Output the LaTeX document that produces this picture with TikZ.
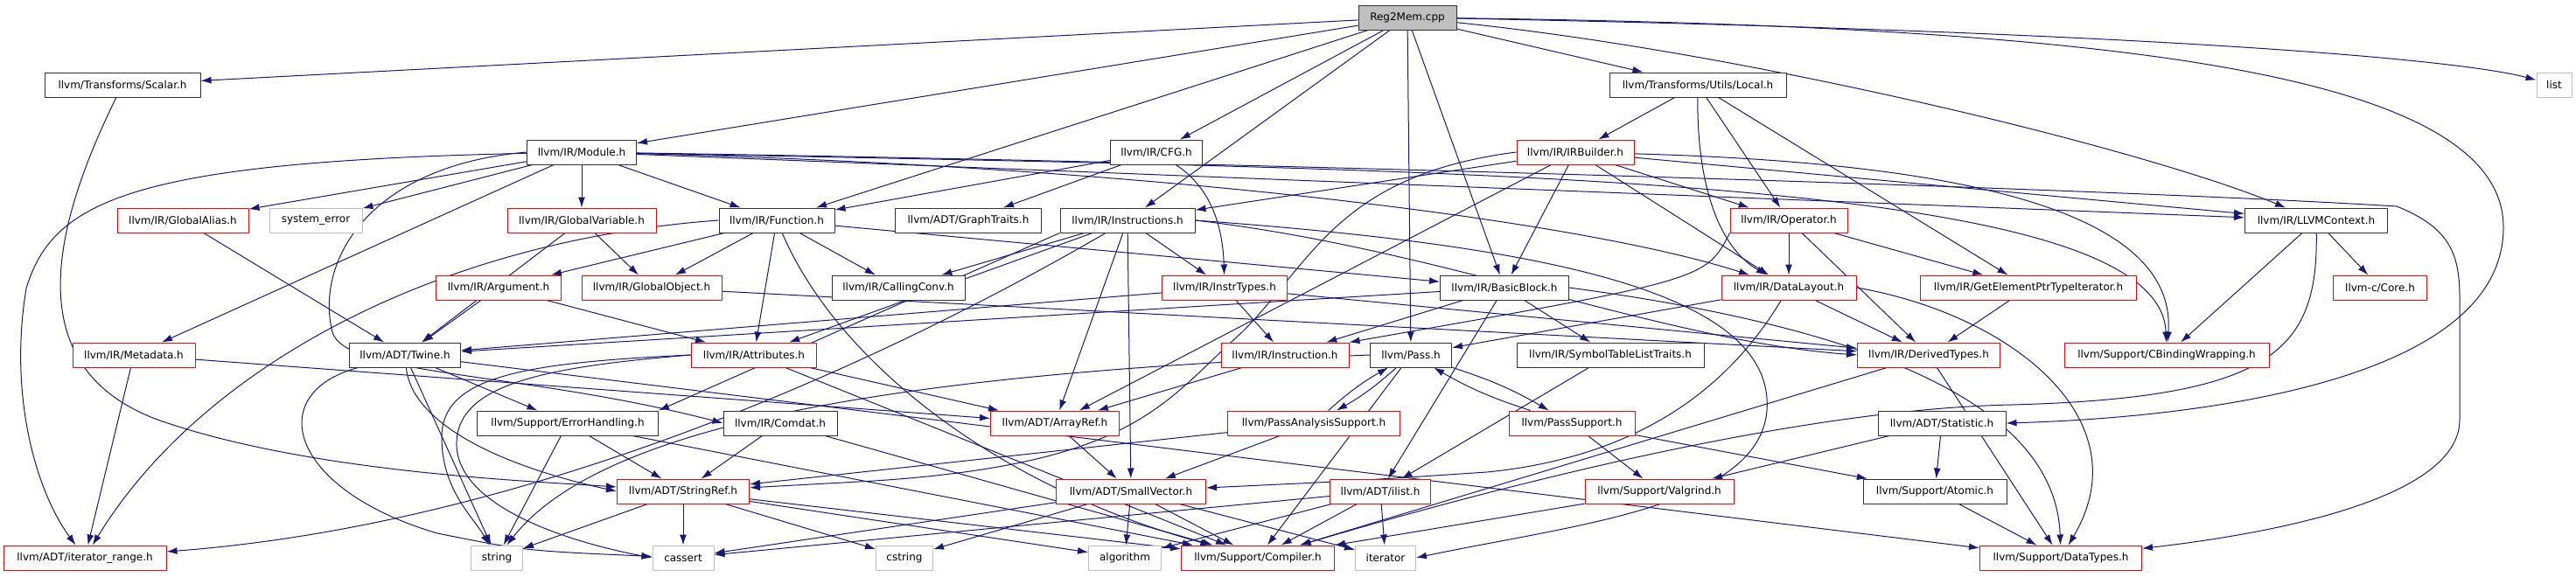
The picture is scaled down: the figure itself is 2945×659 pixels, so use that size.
\documentclass[tikz,border=0pt]{standalone}
\usepackage{fontspec}
\setmainfont{DejaVu Sans}
\usetikzlibrary{arrows.meta,backgrounds}
\definecolor{edgeblue}{RGB}{25,25,112}
\definecolor{redline}{RGB}{255,0,0}
\definecolor{grayline}{RGB}{191,191,191}
\definecolor{rootfill}{RGB}{191,191,191}
\newcommand\filefont{\fontsize{12}{14}\selectfont}
\tikzset{>={Latex[length=12pt,width=8pt]}}
\tikzset{
    file/.style={draw=black!80, fill=white, line width=1pt, minimum height=28pt, inner sep=0pt, font=\filefont},
    redfile/.style={file, draw=redline},
    sysfile/.style={file, draw=grayline},
    dep/.style={->, draw=edgeblue, line width=1pt}
}

\begin{document}
\begin{tikzpicture}[x=1pt, y=-1pt, line join = round]
    \useasboundingbox (0,0) rectangle (2945,659);
    % row 1
    \node[file, fill=rootfill, minimum width=112pt] (root) at (1609,20) {Reg2Mem.cpp};
    % row 2
    \node[file, minimum width=178pt] (scalar) at (140,97) {llvm/Transforms/Scalar.h};
    \node[file, minimum width=202pt] (local) at (1941,97) {llvm/Transforms/Utils/Local.h};
    \node[sysfile, minimum width=40pt] (list) at (2920,97) {list};
    % row 3
    \node[file, minimum width=125pt] (module) at (665,174) {llvm/IR/Module.h};
    \node[file, minimum width=105pt] (cfg) at (1322,174) {llvm/IR/CFG.h};
    \node[redfile, minimum width=134pt] (irbuilder) at (1801,174) {llvm/IR/IRBuilder.h};
    % row 4
    \node[redfile, minimum width=150pt] (galias) at (209,252) {llvm/IR/GlobalAlias.h};
    \node[sysfile, minimum width=106pt] (syserr) at (361,252) {system\_error};
    \node[redfile, minimum width=170pt] (gvar) at (665,252) {llvm/IR/GlobalVariable.h};
    \node[file, minimum width=132pt] (function) at (888,252) {llvm/IR/Function.h};
    \node[file, minimum width=167pt] (graphtr) at (1107,252) {llvm/ADT/GraphTraits.h};
    \node[file, minimum width=154pt] (instrs) at (1289,252) {llvm/IR/Instructions.h};
    \node[redfile, minimum width=134pt] (operator) at (2045,252) {llvm/IR/Operator.h};
    \node[file, minimum width=163pt] (llvmctx) at (2648,252) {llvm/IR/LLVMContext.h};
    % row 5
    \node[redfile, minimum width=143pt] (argument) at (570,329) {llvm/IR/Argument.h};
    \node[redfile, minimum width=160pt] (gobject) at (745,329) {llvm/IR/GlobalObject.h};
    \node[file, minimum width=152pt] (callconv) at (1027,329) {llvm/IR/CallingConv.h};
    \node[redfile, minimum width=143pt] (instrtypes) at (1400,329) {llvm/IR/InstrTypes.h};
    \node[file, minimum width=147pt] (bblock) at (1720,329) {llvm/IR/BasicBlock.h};
    \node[redfile, minimum width=154pt] (datalayout) at (2045,329) {llvm/IR/DataLayout.h};
    \node[redfile, minimum width=247pt] (gepti) at (2319,329) {llvm/IR/GetElementPtrTypeIterator.h};
    \node[redfile, minimum width=107pt] (core) at (2721,329) {llvm-c/Core.h};
    % row 6
    \node[redfile, minimum width=140pt] (metadata) at (153,406) {llvm/IR/Metadata.h};
    \node[file, minimum width=127pt] (twine) at (463,406) {llvm/ADT/Twine.h};
    \node[redfile, minimum width=143pt] (attributes) at (862,406) {llvm/IR/Attributes.h};
    \node[redfile, minimum width=146pt] (instruction) at (1469,406) {llvm/IR/Instruction.h};
    \node[file, minimum width=93pt] (pass) at (1613,406) {llvm/Pass.h};
    \node[file, minimum width=214pt] (symtab) at (1841,406) {llvm/IR/SymbolTableListTraits.h};
    \node[redfile, minimum width=163pt] (derived) at (2205,406) {llvm/IR/DerivedTypes.h};
    \node[redfile, minimum width=234pt] (cbinding) at (2477,406) {llvm/Support/CBindingWrapping.h};
    % row 7
    \node[file, minimum width=207pt] (errhand) at (649,484) {llvm/Support/ErrorHandling.h};
    \node[file, minimum width=130pt] (comdat) at (892,484) {llvm/IR/Comdat.h};
    \node[redfile, minimum width=147pt] (arrayref) at (1206,484) {llvm/ADT/ArrayRef.h};
    \node[redfile, minimum width=197pt] (passanalysis) at (1502,484) {llvm/PassAnalysisSupport.h};
    \node[redfile, minimum width=144pt] (passsupport) at (1797,484) {llvm/PassSupport.h};
    \node[file, minimum width=146pt] (statistic) at (2220,484) {llvm/ADT/Statistic.h};
    % row 8
    \node[redfile, minimum width=151pt] (stringref) at (781,562) {llvm/ADT/StringRef.h};
    \node[redfile, minimum width=171pt] (smallvec) at (1293,562) {llvm/ADT/SmallVector.h};
    \node[redfile, minimum width=115pt] (ilist) at (1578,562) {llvm/ADT/ilist.h};
    \node[redfile, minimum width=170pt] (valgrind) at (1897,562) {llvm/Support/Valgrind.h};
    \node[file, minimum width=164pt] (atomic) at (2212,562) {llvm/Support/Atomic.h};
    % row 9
    \node[redfile, minimum width=186pt] (itrange) at (97,638) {llvm/ADT/iterator\_range.h};
    \node[sysfile, minimum width=59pt] (string) at (568,638) {string};
    \node[sysfile, minimum width=70pt] (cassert) at (781,638) {cassert};
    \node[sysfile, minimum width=65pt] (cstring) at (1034,638) {cstring};
    \node[sysfile, minimum width=83pt] (algorithm) at (1286,638) {algorithm};
    \node[redfile, minimum width=175pt] (compiler) at (1438,638) {llvm/Support/Compiler.h};
    \node[sysfile, minimum width=69pt] (iterator) at (1584,638) {iterator};
    \node[redfile, minimum width=185pt] (datatypes) at (2356,638) {llvm/Support/DataTypes.h};

    \begin{scope}[on background layer]
        % straight includes
        \foreach \a/\b in {root/scalar, root/local, root/module, root/cfg, root/function, root/instrs,
            root/pass, root/bblock,
            local/irbuilder, local/operator, local/gepti,
            module/galias, module/syserr, module/gvar, module/function, module/metadata, module/llvmctx,
            cfg/graphtr, cfg/function,
            irbuilder/instrs, irbuilder/bblock, irbuilder/datalayout, irbuilder/operator, irbuilder/llvmctx,
            irbuilder/arrayref,
            galias/twine, gvar/twine, gvar/gobject,
            function/argument, function/attributes, function/bblock, function/callconv, function/gobject,
            instrs/arrayref, instrs/smallvec, instrs/attributes, instrs/callconv, instrs/instrtypes,
            operator/datalayout, operator/derived, operator/gepti,
            llvmctx/cbinding, llvmctx/core,
            argument/twine, argument/attributes, gobject/derived,
            instrtypes/twine, instrtypes/derived, instrtypes/instruction,
            bblock/twine, bblock/ilist, bblock/instruction, bblock/symtab,
            datalayout/derived, datalayout/pass,
            gepti/derived, metadata/itrange, metadata/arrayref,
            twine/datatypes, twine/errhand, twine/string,
            attributes/arrayref, attributes/compiler,
            instruction/arrayref, pass/compiler,
            passanalysis/smallvec, passanalysis/stringref, passsupport/atomic, passsupport/valgrind,
            symtab/ilist, derived/compiler, derived/datatypes,
            errhand/stringref, errhand/compiler, errhand/string, comdat/stringref, comdat/compiler,
            arrayref/smallvec, statistic/atomic, statistic/valgrind,
            stringref/string, stringref/cassert, stringref/cstring, stringref/algorithm, stringref/compiler,
            smallvec/algorithm, smallvec/compiler, smallvec/cstring, smallvec/cassert, smallvec/iterator,
            ilist/compiler, ilist/algorithm, ilist/cassert, ilist/iterator,
            valgrind/compiler, atomic/datatypes}
            \draw[dep] (\a) -- (\b);
        \draw[dep] (instrs.south west) -- (errhand.north east);
        % cycles between Pass.h and its support headers
        \draw[dep] (pass) to[bend left=6] (passanalysis);
        \draw[dep] (passanalysis) to[bend left=6] (pass);
        \draw[dep] (pass) to[bend left=6] (passsupport);
        \draw[dep] (passsupport) to[bend left=6] (pass);
        % routed includes
        \draw[dep] (root) .. controls (2400,35) and (2800,65) .. (list);
        \draw[dep] (root) .. controls (2000,60) and (2450,170) .. (llvmctx);
        \draw[dep] (root) .. controls (2400,30) and (2862,80) .. (2862,260) .. controls (2862,440) and (2500,478) .. (statistic.east);
        \draw[dep] (local) .. controls (1940,200) and (1960,280) .. (datalayout);
        \draw[dep] (cfg) .. controls (1385,215) and (1398,260) .. (instrtypes);
        \draw[dep] (module) .. controls (1400,185) and (2400,215) .. (2740,236) .. controls (2800,260) and (2812,290) .. (2812,340) -- (2812,480) .. controls (2812,570) and (2600,610) .. (datatypes);
        \draw[dep] (module) .. controls (1300,190) and (1800,250) .. (datalayout);
        \draw[dep] (module) .. controls (1700,195) and (2470,200) .. (cbinding);
        \draw[dep] (module.west) .. controls (420,190) and (360,300) .. (380,380) .. controls (395,430) and (600,425) .. (comdat.west);
        \draw[dep] (module) .. controls (150,185) and (60,230) .. (30,330) .. controls (10,450) and (40,560) .. (itrange);
        \draw[dep] (irbuilder) .. controls (2200,185) and (2490,230) .. (cbinding);
        \draw[dep] (irbuilder.west) .. controls (1530,200) and (1500,300) .. (1420,380) .. controls (1330,460) and (1300,530) .. (1000,550) -- (stringref);
        \draw[dep] (llvmctx) .. controls (2650,400) and (2600,455) .. (2300,463) .. controls (2050,468) and (1700,560) .. (compiler);
        \draw[dep] (scalar) .. controls (60,260) and (20,420) .. (180,480) .. controls (350,540) and (600,550) .. (stringref);
        \draw[dep] (function.west) .. controls (500,275) and (230,420) .. (itrange);
        \draw[dep] (function) .. controls (960,420) and (1150,560) .. (compiler);
        \draw[dep] (instrs) .. controls (1000,420) and (600,600) .. (itrange);
        \draw[dep] (instrs.east) .. controls (1650,285) and (1900,390) .. (derived.west);
        \draw[dep] (instrs.east) .. controls (1750,280) and (2030,330) .. (2020,470) .. controls (2010,580) and (1800,600) .. (iterator.east);
        \draw[dep] (operator.south west) .. controls (1950,320) .. (instruction.north east);
        \draw[dep] (bblock.east) .. controls (2100,370) and (2350,450) .. (datatypes);
        \draw[dep] (datalayout) .. controls (1990,420) and (1900,520) .. (1700,540) .. controls (1550,550) .. (smallvec);
        \draw[dep] (datalayout.east) .. controls (2300,360) and (2450,480) .. (datatypes);
        \draw[dep] (pass.west) .. controls (1100,425) and (700,470) .. (string);
        \draw[dep] (twine) .. controls (300,450) and (330,560) .. (500,610) .. controls (600,630) .. (cassert);
        \draw[dep] (twine) .. controls (470,480) and (560,530) .. (stringref.west);
        \draw[dep] (attributes.west) .. controls (620,420) and (520,440) .. (522,510) .. controls (525,580) and (650,620) .. (cassert.west);
        \draw[dep] (attributes.west) .. controls (600,415) and (505,430) .. (505,500) .. controls (505,560) and (540,590) .. (string);
    \end{scope}
\end{tikzpicture}
\end{document}
